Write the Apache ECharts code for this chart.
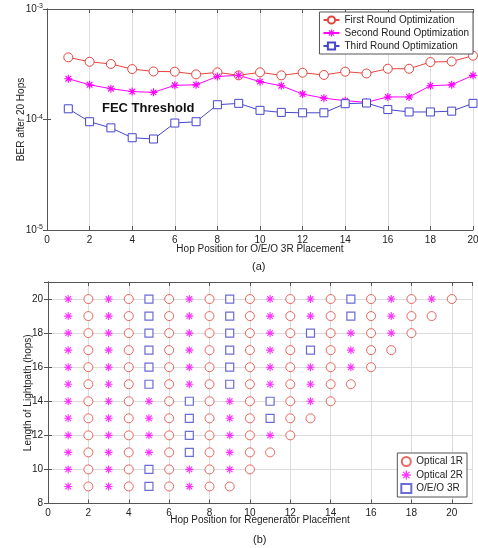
<!DOCTYPE html>
<html>
<head>
<meta charset="utf-8">
<script src="https://cdn.jsdelivr.net/npm/echarts@6/dist/echarts.min.js"></script>
<style>
html, body { margin: 0; background: #fff; }
#chart { width: 478px; height: 548px; }
</style>
</head>
<body>
<div id="chart"></div>
<script>
// ---- panel (a): BER after 20 hops vs O/E/O 3R position ----
const hops = [1, 2, 3, 4, 5, 6, 7, 8, 9, 10, 11, 12, 13, 14, 15, 16, 17, 18, 19, 20];
const firstRound = [3.65e-4, 3.33e-4, 3.18e-4, 2.86e-4, 2.72e-4, 2.71e-4, 2.56e-4, 2.67e-4, 2.51e-4, 2.67e-4,
    2.51e-4, 2.65e-4, 2.53e-4, 2.71e-4, 2.61e-4, 2.88e-4, 2.88e-4, 3.31e-4, 3.35e-4, 3.78e-4];
const secondRound = [2.34e-4, 2.06e-4, 1.90e-4, 1.79e-4, 1.76e-4, 2.04e-4, 2.06e-4, 2.45e-4, 2.51e-4, 2.20e-4,
    2.02e-4, 1.70e-4, 1.56e-4, 1.48e-4, 1.43e-4, 1.60e-4, 1.60e-4, 2.02e-4, 2.06e-4, 2.51e-4];
const thirdRound = [1.25e-4, 9.55e-5, 8.4e-5, 6.84e-5, 6.66e-5, 9.29e-5, 9.55e-5, 1.36e-4, 1.40e-4, 1.21e-4,
    1.16e-4, 1.15e-4, 1.15e-4, 1.39e-4, 1.41e-4, 1.23e-4, 1.17e-4, 1.17e-4, 1.19e-4, 1.40e-4];
const fecThreshold = 1e-4;
const roundNames = ["First Round Optimization", "Second Round Optimization", "Third Round Optimization"];

// ---- panel (b): regenerator type per hop, one string per lightpath length ----
// C = Optical 1R, S = Optical 2R, Q = O/E/O 3R ; character i is hop i+1
const lightpathLengths = [20, 19, 18, 17, 16, 15, 14, 13, 12, 11, 10, 9];
const placementRows = [
    "SCSCQCSCQCSCSCQCSCSC",
    "SCSCQCSCQCSCSCQCSCC",
    "SCSCQCSCQCSCQCSCSC",
    "SCSCQCSCQCSCQCSCC",
    "SCSCQCSCQCSCSCSC",
    "SCSCQCSCQCSCSCC",
    "SCSCSCQCSCQCSC",
    "SCSCSCQCSCQCC",
    "SCSCSCQCSCSC",
    "SCSCSCQCSCC",
    "SCSCQCSCSC",
    "SCSCQCSCC"
];
const regenNames = { C: "Optical 1R", S: "Optical 2R", Q: "O/E/O 3R" };

const FONT = "Liberation Sans";
const RED = "#e5443c";
const MAGENTA = "#ff00ff";
const BLUE = "#4646cc";
const GRID_GRAY = "#dcdcdc";
const STAR = "path://M-0.7,-5L0.7,-5L0.7,5L-0.7,5ZM-5,-0.7L5,-0.7L5,0.7L-5,0.7ZM-4,-3L-3,-4L4,3L3,4ZM3,-4L4,-3L-3,4L-4,3Z";

const pointsByType = { C: [], S: [], Q: [] };
placementRows.forEach((row, r) => {
    row.split("").forEach((t, i) => {
        pointsByType[t].push([i + 1, lightpathLengths[r]]);
    });
});

// minor grid lines of the log axis (2..9 per decade)
const minorGrid = [];
[1e-5, 1e-4].forEach((d) => {
    for (let k = 2; k <= 9; k++) minorGrid.push({ yAxis: k * d });
});

function pairOf(values) {
    return hops.map((h, i) => [h, values[i]]);
}

function boxAxis(gridIndex, extra) {
    return Object.assign({
        gridIndex: gridIndex,
        nameMoveOverlap: false,
        axisLine: { lineStyle: { color: "#555", width: 1 } },
        axisTick: { inside: true, length: 4, lineStyle: { color: "#555" } },
        axisLabel: { show: false },
        splitLine: { show: false }
    }, extra);
}

const labelStyle = { fontFamily: FONT, fontSize: 10, color: "#222", margin: 5 };
const nameStyle = { fontFamily: FONT, fontSize: 10, color: "#222" };

const option = {
    animation: false,
    backgroundColor: "#fff",
    textStyle: { fontFamily: FONT },
    grid: [
        { left: 47, right: 5, top: 9, height: 221, outerBoundsMode: "none" },
        { left: 48, right: 6, top: 282, height: 221.5, outerBoundsMode: "none" }
    ],
    xAxis: [
        boxAxis(0, {
            type: "value", min: 0, max: 20, interval: 2,
            axisLabel: labelStyle,
            splitLine: { show: true, lineStyle: { color: GRID_GRAY } },
            name: "Hop Position for O/E/O 3R Placement", nameLocation: "middle", nameGap: 14,
            nameTextStyle: nameStyle
        }),
        boxAxis(0, { type: "value", min: 0, max: 20, interval: 2, position: "top" }),
        boxAxis(1, {
            type: "value", min: 0, max: 21, interval: 2,
            axisLabel: Object.assign({ showMaxLabel: false }, labelStyle),
            splitLine: { show: true, lineStyle: { color: GRID_GRAY } },
            name: "Hop Position for Regenerator Placement", nameLocation: "middle", nameGap: 12,
            nameTextStyle: nameStyle
        }),
        boxAxis(1, { type: "value", min: 0, max: 21, interval: 2, position: "top" })
    ],
    yAxis: [
        boxAxis(0, {
            type: "log", logBase: 10, min: 1e-5, max: 1e-3,
            axisLabel: {
                show: true, margin: 4,
                formatter: (v) => "{b|10}{e|" + Math.round(Math.log10(v)) + "}",
                rich: {
                    b: { fontFamily: FONT, fontSize: 10, color: "#222" },
                    e: { fontFamily: FONT, fontSize: 7, color: "#222", verticalAlign: "top", padding: [0, 0, 5, 0] }
                }
            },
            name: "BER after 20 Hops", nameLocation: "middle", nameGap: 21, nameRotate: 90,
            nameTextStyle: nameStyle
        }),
        boxAxis(0, { type: "log", logBase: 10, min: 1e-5, max: 1e-3, position: "right" }),
        boxAxis(1, {
            type: "value", min: 8, max: 21, interval: 2,
            axisLabel: Object.assign({ showMaxLabel: false }, labelStyle),
            splitLine: { show: true, lineStyle: { color: GRID_GRAY } },
            name: "Length of Lightpath (hops)", nameLocation: "middle", nameGap: 15, nameRotate: 90,
            nameTextStyle: nameStyle
        }),
        boxAxis(1, { type: "value", min: 8, max: 21, interval: 2, position: "right" })
    ],
    legend: [
        {
            data: roundNames, orient: "vertical", right: 5, top: 12,
            itemWidth: 16, itemHeight: 9, itemGap: 3, padding: [3, 4, 3, 3],
            borderColor: "#555", borderWidth: 1, borderRadius: 0, backgroundColor: "#fff",
            textStyle: { fontFamily: FONT, fontSize: 10, color: "#222" }
        },
        {
            data: [regenNames.C, regenNames.S, regenNames.Q], orient: "vertical", right: 11, top: 453,
            itemWidth: 10, itemHeight: 9, itemGap: 3, padding: [3, 4, 3, 3],
            borderColor: "#555", borderWidth: 1, borderRadius: 0, backgroundColor: "#fff",
            textStyle: { fontFamily: FONT, fontSize: 10, color: "#222" }
        }
    ],
    graphic: [
        { type: "text", left: 102, top: 102, z: 10,
          style: { text: "FEC Threshold", font: "bold 13px " + FONT, fill: "#111" } },
        { type: "text", left: 252, top: 261,
          style: { text: "(a)", font: "11px " + FONT, fill: "#222" } },
        { type: "text", left: 253, top: 534,
          style: { text: "(b)", font: "11px " + FONT, fill: "#222" } }
    ],
    series: [
        {
            name: roundNames[0], type: "line", xAxisIndex: 0, yAxisIndex: 0,
            data: pairOf(firstRound),
            symbol: "circle", symbolSize: 9,
            lineStyle: { color: RED, width: 1 },
            itemStyle: { color: "#fff", borderColor: RED, borderWidth: 1 },
            markLine: {
                silent: true, symbol: "none", label: { show: false }, z: 1,
                lineStyle: { color: GRID_GRAY, type: "solid", width: 1 },
                data: minorGrid
            }
        },
        {
            name: roundNames[1], type: "line", xAxisIndex: 0, yAxisIndex: 0,
            data: pairOf(secondRound),
            symbol: STAR, symbolSize: 8,
            lineStyle: { color: MAGENTA, width: 1 },
            itemStyle: { color: MAGENTA }
        },
        {
            name: roundNames[2], type: "line", xAxisIndex: 0, yAxisIndex: 0,
            data: pairOf(thirdRound),
            symbol: "rect", symbolSize: 8,
            lineStyle: { color: BLUE, width: 1 },
            itemStyle: { color: "#fff", borderColor: BLUE, borderWidth: 1 },
            markLine: {
                silent: true, symbol: "none", label: { show: false },
                lineStyle: { color: "#000", type: [7, 4], width: 2.2 },
                data: [{ yAxis: fecThreshold }]
            }
        },
        {
            name: regenNames.C, type: "scatter", xAxisIndex: 2, yAxisIndex: 2,
            data: pointsByType.C, symbol: "circle", symbolSize: 9,
            itemStyle: { color: "#fff", borderColor: RED, borderWidth: 1 }
        },
        {
            name: regenNames.S, type: "scatter", xAxisIndex: 2, yAxisIndex: 2,
            data: pointsByType.S, symbol: STAR, symbolSize: 8,
            itemStyle: { color: MAGENTA }
        },
        {
            name: regenNames.Q, type: "scatter", xAxisIndex: 2, yAxisIndex: 2,
            data: pointsByType.Q, symbol: "rect", symbolSize: 8,
            itemStyle: { color: "#fff", borderColor: BLUE, borderWidth: 1.2 }
        }
    ]
};

const chart = echarts.init(document.getElementById("chart"), null, { renderer: "canvas" });
chart.setOption(option);
</script>
</body>
</html>
